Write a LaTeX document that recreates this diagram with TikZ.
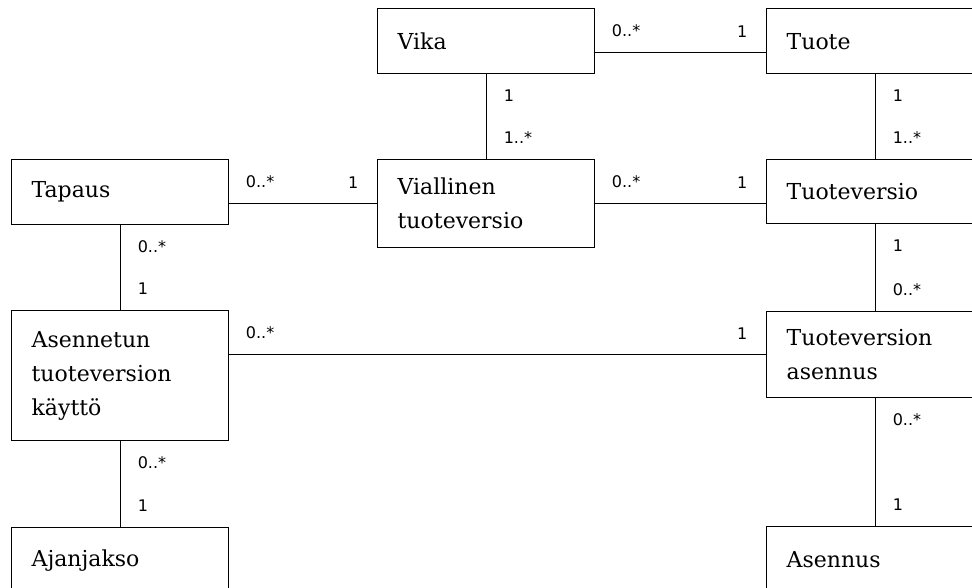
\documentclass[tikz,border=0pt]{standalone}
\usepackage{fontspec}
\setmainfont{DejaVu Serif}
\newfontfamily\multfont{DejaVu Sans}
\usetikzlibrary{positioning}

\tikzset{
    entity/.style={draw, line width=1.3pt, anchor=north west, align=left,
        text width=177pt, inner xsep=20pt, inner ysep=3pt,
        font=\fontsize{22}{34}\selectfont},
    assoc/.style={line width=1.3pt},
    mult/.style={font=\multfont\fontsize{16}{18}\selectfont, inner sep=0pt},
    hfrom/.style={mult, pos=0, anchor=south west, xshift=16pt, yshift=15pt},
    hto/.style={mult, pos=1, anchor=south east, xshift=-18pt, yshift=15pt},
    vfrom/.style={mult, pos=0, anchor=north west, xshift=17pt, yshift=-15pt},
    vto/.style={mult, pos=1, anchor=south west, xshift=17pt, yshift=15pt}
}

\begin{document}
\begin{tikzpicture}[x=1pt, y=-1pt]
    \useasboundingbox (0,0) rectangle (972,587);
    \clip (0,0) rectangle (972,587);

    % entities
    \node[entity, minimum height=65pt]  (vika)        at (377,8)   {Vika};
    \node[entity, minimum height=65pt]  (tuote)       at (766,8)   {Tuote};
    \node[entity, minimum height=65pt]  (tapaus)      at (11,159)  {Tapaus};
    \node[entity, minimum height=88pt]  (viallinen)   at (377,159) {Viallinen\\tuoteversio};
    \node[entity, minimum height=64pt]  (tuoteversio) at (766,159) {Tuoteversio};
    \node[entity, minimum height=130pt] (asennetun)   at (11,310)  {Asennetun\\tuoteversion\\käyttö};
    \node[entity, minimum height=86pt]  (tvasennus)   at (766,311) {Tuoteversion\\asennus};
    \node[entity, minimum height=65pt]  (ajanjakso)   at (11,527)  {Ajanjakso};
    \node[entity, minimum height=65pt]  (asennus)     at (766,526) {Asennus};

    % horizontal associations
    \draw[assoc] ([yshift=-11.5pt]vika.east) -- ([yshift=-11.5pt]tuote.west)
        node[hfrom] {0..*} node[hto] {1};
    \draw[assoc] (tapaus.east |- viallinen.west) -- (viallinen.west)
        node[hfrom] {0..*} node[hto] {1};
    \draw[assoc] (viallinen.east) -- (viallinen.east -| tuoteversio.west)
        node[hfrom] {0..*} node[hto] {1};
    \draw[assoc] (asennetun.east |- tvasennus.west) -- (tvasennus.west)
        node[hfrom] {0..*} node[hto] {1};

    % vertical associations
    \draw[assoc] (vika) -- (viallinen) node[vfrom] {1} node[vto] {1..*};
    \draw[assoc] (tuote) -- (tuoteversio) node[vfrom] {1} node[vto] {1..*};
    \draw[assoc] (tapaus) -- (asennetun) node[vfrom] {0..*} node[vto] {1};
    \draw[assoc] (tuoteversio) -- (tvasennus) node[vfrom] {1} node[vto] {0..*};
    \draw[assoc] (asennetun) -- (ajanjakso) node[vfrom] {0..*} node[vto] {1};
    \draw[assoc] (tvasennus) -- (asennus) node[vfrom] {0..*} node[vto] {1};
\end{tikzpicture}
\end{document}
